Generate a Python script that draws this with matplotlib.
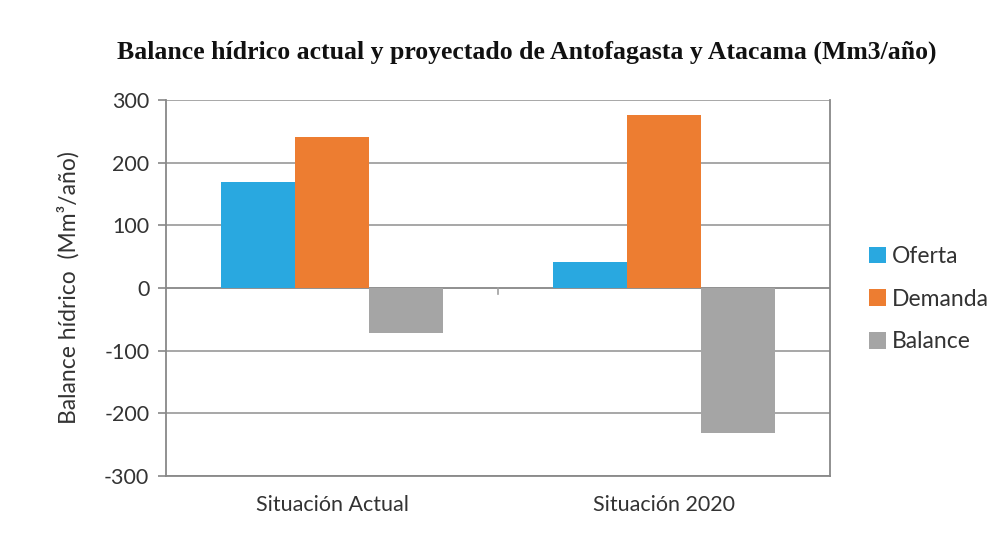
import matplotlib
matplotlib.use("Agg")
import matplotlib.pyplot as plt
import numpy as np
from matplotlib.patches import Patch

categories = ["Situación Actual", "Situación 2020"]
series_names = ["Oferta", "Demanda", "Balance"]
oferta = [169, 41]
demanda = [241, 276]
balance = [-72, -231]
yticks = [-300, -200, -100, 0, 100, 200, 300]
colors = ["#29A8E0", "#ED7D31", "#A5A5A5"]

plt.rcParams['font.family'] = ['Lato', 'DejaVu Sans']

fig = plt.figure(figsize=(10, 5.52), dpi=100)
ax = fig.add_axes([0.166, 0.1377, 0.664, 0.6811])

x = np.arange(len(categories))
w = 0.223
for i, (vals, c) in enumerate(zip([oferta, demanda, balance], colors)):
    ax.bar(x + (i - 1) * w, vals, width=w, color=c, zorder=3)

ax.set_xlim(-0.5, 1.5)
ax.set_ylim(-300, 300)
ax.set_yticks(yticks)
ax.set_yticklabels([str(v) for v in yticks], fontsize=15.5, color="#333333")
ax.set_xticks(x)
ax.set_xticklabels(categories, fontsize=15.5, color="#333333")
ax.tick_params(axis='x', length=0, pad=14)
ax.tick_params(axis='y', length=6, width=1.2, color="#888888", pad=6)
ax.yaxis.grid(True, color="#A0A0A0", linewidth=1.3, zorder=0)
ax.axhline(0, color="#909090", linewidth=1.3, zorder=2)
ax.plot([0.5, 0.5], [0, -9], color="#A0A0A0", linewidth=1.2, zorder=2)
for s in ["left", "right", "bottom", "top"]:
    ax.spines[s].set_color("#888888")
    ax.spines[s].set_linewidth(1.3)
ax.spines["top"].set_visible(False)

ax.set_ylabel("Balance hídrico  (Mm³/año)", fontsize=16.5, color="#333333", labelpad=18)

fig.text(0.527, 0.905, "Balance hídrico actual y proyectado de Antofagasta y Atacama (Mm3/año)",
         ha="center", va="center", fontsize=18.5, fontweight="bold",
         family="Liberation Serif", color="#111111")

handles = [Patch(facecolor=c, edgecolor='none') for c in colors]
leg = fig.legend(handles, series_names, loc="center left", bbox_to_anchor=(0.848, 0.458),
                 frameon=False, fontsize=16.5, handlelength=0.75, handleheight=0.75,
                 handletextpad=0.25, labelspacing=0.95)
for t in leg.get_texts():
    t.set_color("#333333")

fig.savefig("out.png", dpi=100, facecolor="white")
